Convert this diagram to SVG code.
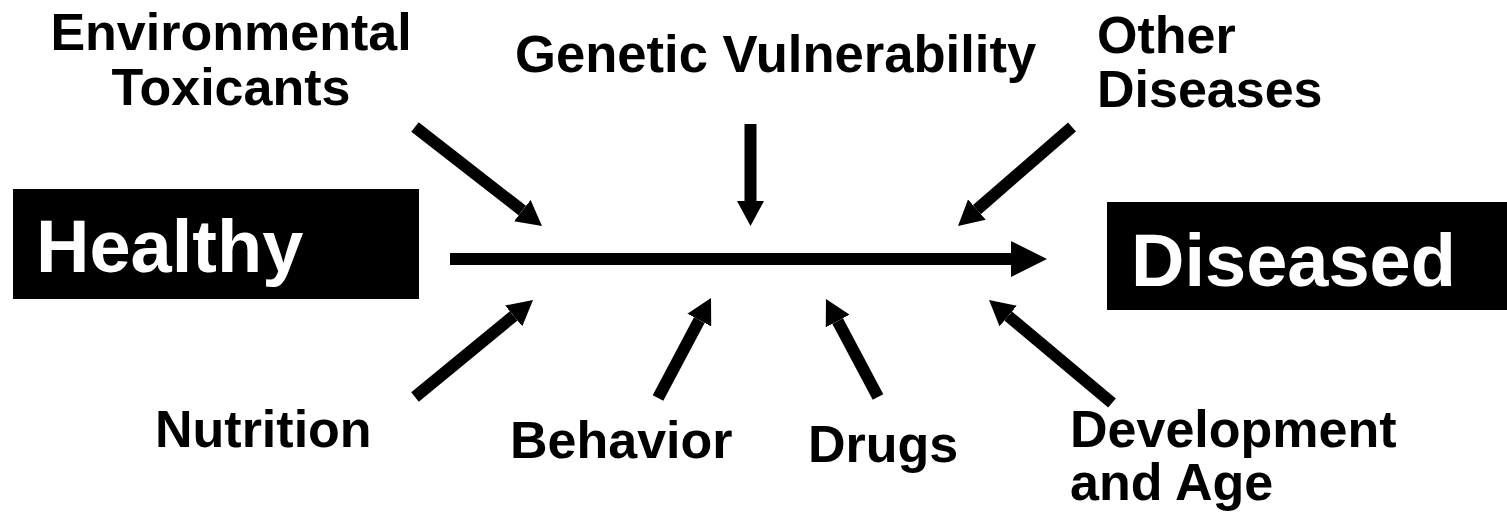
<svg xmlns="http://www.w3.org/2000/svg" width="1507" height="512" viewBox="0 0 1507 512">
<style>
.lbl{font-family:"Liberation Sans",Arial,sans-serif;font-weight:bold;font-size:52px;fill:#000}
.big{font-family:"Liberation Sans",Arial,sans-serif;font-weight:bold;font-size:74px;fill:#fff}
.box{fill:#000}
.sh{stroke:#000;stroke-width:12;fill:none;stroke-linecap:butt}
.main{stroke:#000;stroke-width:12;fill:none}
</style>
<defs>
<marker id="headMain" markerUnits="userSpaceOnUse" markerWidth="36" markerHeight="36" refX="0" refY="18" orient="auto" viewBox="0 0 36 36">
<path d="M0,0 L36,18 L0,36 Z" fill="#000"/>
</marker>
<marker id="head" markerUnits="userSpaceOnUse" markerWidth="25" markerHeight="27" refX="0" refY="13.5" orient="auto" viewBox="0 0 25 27">
<path d="M0,0 L25,13.5 L0,27 Z" fill="#000"/>
</marker>
</defs>
<rect width="1507" height="512" fill="#fff"/>
<g id="healthy">
<rect class="box" x="13" y="189" width="406" height="110"/>
<text class="big" x="36" y="272">Healthy</text>
</g>
<g id="diseased">
<rect class="box" x="1107" y="202" width="400" height="108"/>
<text class="big" x="1131" y="286">Diseased</text>
</g>
<g id="environmental">
<text class="lbl" x="231" y="50" text-anchor="middle">Environmental</text>
<text class="lbl" x="231" y="105" text-anchor="middle">Toxicants</text>
</g>
<g id="genetic">
<text class="lbl" x="515" y="72" style="font-size:52.6px">Genetic Vulnerability</text>
</g>
<g id="other">
<text class="lbl" x="1097" y="53">Other</text>
<text class="lbl" x="1097" y="107">Diseases</text>
</g>
<g id="nutrition">
<text class="lbl" x="155" y="447">Nutrition</text>
</g>
<g id="behavior">
<text class="lbl" x="510" y="458">Behavior</text>
</g>
<g id="drugs">
<text class="lbl" x="808" y="462">Drugs</text>
</g>
<g id="development">
<text class="lbl" x="1070" y="447">Development</text>
<text class="lbl" x="1070" y="500">and Age</text>
</g>
<g id="connectors">
<line class="main" x1="450" y1="259" x2="1011" y2="259" marker-end="url(#headMain)"/>
<line class="sh" x1="415" y1="127" x2="522.3" y2="210.6" marker-end="url(#head)"/>
<line class="sh" x1="750.5" y1="124" x2="750.5" y2="201" marker-end="url(#head)"/>
<line class="sh" x1="1072" y1="127" x2="976.9" y2="209.6" marker-end="url(#head)"/>
<line class="sh" x1="415" y1="397" x2="513.7" y2="315.9" marker-end="url(#head)"/>
<line class="sh" x1="658" y1="398" x2="699.3" y2="320.1" marker-end="url(#head)"/>
<line class="sh" x1="878" y1="397" x2="837.7" y2="321.1" marker-end="url(#head)"/>
<line class="sh" x1="1112" y1="403" x2="1008.2" y2="316" marker-end="url(#head)"/>
</g>
</svg>
